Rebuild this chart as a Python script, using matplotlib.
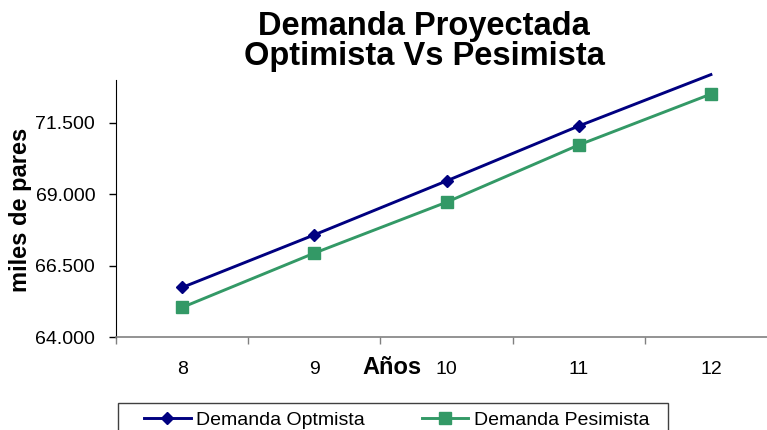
import matplotlib
matplotlib.use('Agg')
import matplotlib.pyplot as plt
import numpy as np
from matplotlib.lines import Line2D
from matplotlib.patches import Rectangle
from matplotlib.ticker import FuncFormatter, FixedLocator

plt.rcParams['font.family'] = ['Liberation Sans', 'DejaVu Sans']

anios = [8, 9, 10, 11, 12]
optimista = [65734, 67577, 69465, 71388, 73189]
pesimista = [65035, 66937, 68720, 70724, 72507]
yticks = [64000, 66500, 69000, 71500]
ymax = 73000

azul = '#000080'
verde = '#339966'

fig = plt.figure(figsize=(7.67, 4.30), dpi=100)
ax = fig.add_axes([116/767, 1-337/430, 661/767, 257/430])

# lineas sin recorte (Excel deja pasar la linea un poco), marcadores solo dentro del area
ax.plot(anios, optimista, color=azul, lw=2.1, clip_on=False, zorder=3)
ax.plot(anios, pesimista, color=verde, lw=2.1, clip_on=False, zorder=3)
opt_m = np.where(np.array(optimista) <= ymax, optimista, np.nan)
pes_m = np.where(np.array(pesimista) <= ymax, pesimista, np.nan)
ax.plot(anios, opt_m, ls='none', marker='D', ms=6.5, color=azul, zorder=4)
ax.plot(anios, pes_m, ls='none', marker='s', ms=8.4, color=verde, zorder=4)

ax.set_xlim(7.5, 12.5)
ax.set_ylim(64000, ymax)

ax.spines['top'].set_visible(False)
ax.spines['right'].set_visible(False)
ax.spines['left'].set_color('black')
ax.spines['bottom'].set_color('#808080')
ax.spines['bottom'].set_linewidth(1.2)

ax.yaxis.set_major_locator(FixedLocator(yticks))
ax.yaxis.set_major_formatter(FuncFormatter(lambda v, p: '{:,.0f}'.format(v).replace(',', '.')))
ax.tick_params(axis='y', direction='out', length=5, width=1, color='black', labelsize=14, pad=10)

ax.set_xticks([a - 0.5 for a in anios] + [anios[-1] + 0.5])
ax.set_xticklabels([])
ax.set_xticks(anios, minor=True)
ax.set_xticklabels([str(a) for a in anios], minor=True)
ax.tick_params(axis='x', which='major', direction='out', length=5, color='#808080', width=1)
ax.tick_params(axis='x', which='minor', length=0, labelsize=14, pad=17)

fig.text(424/767, 1-27/430, 'Demanda Proyectada', ha='center', va='center',
         fontsize=23.5, fontweight='bold')
fig.text(424/767, 1-57/430, 'Optimista Vs Pesimista', ha='center', va='center',
         fontsize=23.5, fontweight='bold')
fig.text(392/767, 1-368/430, 'Años', ha='center', va='center', fontsize=17, fontweight='bold')
fig.text(21/767, 1-210/430, 'miles de pares', ha='center', va='center', rotation=90,
         fontsize=17, fontweight='bold')

# leyenda
fig.patches.append(Rectangle((118/767, 1-445/430), 550/767, 42/430, transform=fig.transFigure,
                             fill=False, edgecolor='#404040', lw=1, clip_on=False))
handles = [Line2D([], [], color=azul, lw=2.1, marker='D', ms=6.5),
           Line2D([], [], color=verde, lw=2.1, marker='s', ms=8.4)]
fig.legend(handles, ['Demanda Optmista', 'Demanda Pesimista'], loc='center left',
           bbox_to_anchor=(144/767, 1-420/430), ncol=2, frameon=False, fontsize=14,
           handlelength=2.4, handletextpad=0.3, columnspacing=2.9, borderpad=0,
           borderaxespad=0)

fig.savefig('out.png', dpi=100)
